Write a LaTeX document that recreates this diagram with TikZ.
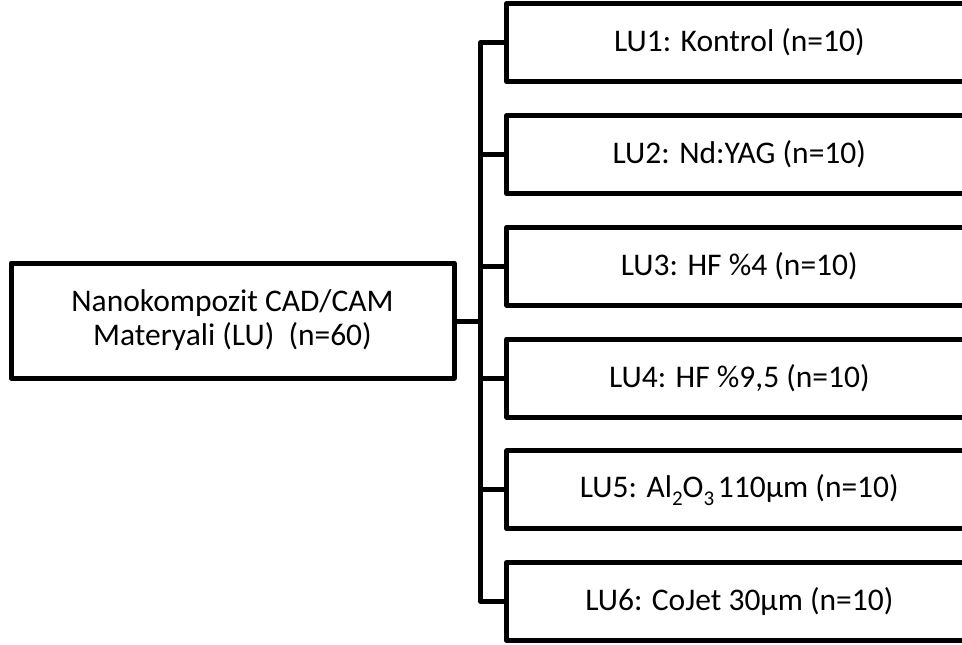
\documentclass[tikz,border=0pt]{standalone}
\usepackage{fontspec}
\setmainfont{Carlito}
\begin{document}
\begin{tikzpicture}[x=1pt,y=-1pt,
  box/.style={draw=black,line width=5pt,rectangle,inner sep=0pt,line join=round,
    font=\fontsize{31.5}{34}\selectfont,align=center},
  leftbox/.style={box,minimum width=443pt,minimum height=115pt},
  grpbox/.style={box,minimum width=465pt,minimum height=78pt},
  conn/.style={draw=black,line width=5pt,line join=round}]
\useasboundingbox (0,0) rectangle (962,645);
\clip (0,0) rectangle (962,645);
\node[leftbox] (L) at (232.5,320.5) {Nanokompozit CAD/CAM\\Materyali (LU)\ \ (n=60)};
\node[grpbox] (b1) at (739.3,42.6) {LU1: Kontrol (n=10)};
\node[grpbox] (b2) at (739.3,154.4) {LU2: Nd:YAG (n=10)};
\node[grpbox] (b3) at (739.3,266.2) {LU3: HF \%4 (n=10)};
\node[grpbox] (b4) at (739.3,378.0) {LU4: HF \%9,5 (n=10)};
\node[grpbox] (b5) at (739.3,489.8) {LU5: Al\raisebox{-0.25em}{\fontsize{21}{21}\selectfont 2}O\raisebox{-0.25em}{\fontsize{21}{21}\selectfont 3}\hspace{0.12em}110µm (n=10)};
\node[grpbox] (b6) at (739.3,601.6) {LU6: CoJet 30µm (n=10)};
\coordinate (sp) at (480.7,321.5);
\draw[conn] (L.east |- sp) -- (sp);
\draw[conn] (b1.west) -| (sp) |- (b6.west);
\draw[conn] (b2.west) -- (b2.west -| sp);
\draw[conn] (b3.west) -- (b3.west -| sp);
\draw[conn] (b4.west) -- (b4.west -| sp);
\draw[conn] (b5.west) -- (b5.west -| sp);
\end{tikzpicture}
\end{document}
